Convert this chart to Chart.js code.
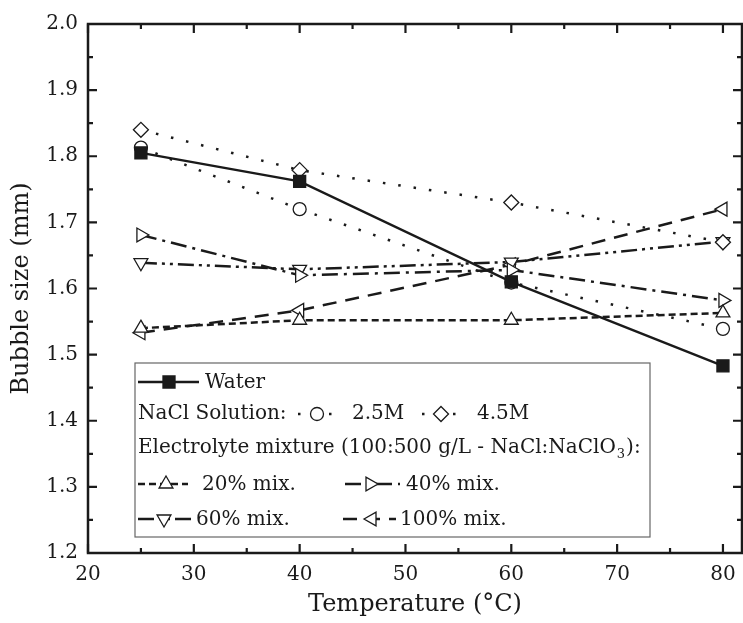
<!DOCTYPE html>
<html>
<head>
<meta charset="utf-8">
<script src="https://cdn.jsdelivr.net/npm/chart.js@4.4.0/dist/chart.umd.min.js"></script>
<style>
  html, body { margin: 0; padding: 0; background: #fff; }
  #wrap { width: 743px; height: 623px; }
</style>
</head>
<body>
<div id="wrap"><canvas id="myChart"></canvas></div>
<script>
let temps = [25, 40, 60, 80];
let water = [1.805, 1.762, 1.61, 1.483];
let nacl25 = [1.813, 1.72, 1.609, 1.539];
let nacl45 = [1.84, 1.779, 1.73, 1.67];
let mix20 = [1.54, 1.552, 1.552, 1.563];
let mix40 = [1.681, 1.62, 1.628, 1.582];
let mix60 = [1.639, 1.629, 1.64, 1.671];
let mix100 = [1.533, 1.567, 1.636, 1.72];
let xTicks = [20, 30, 40, 50, 60, 70, 80];
let yTicks = [1.2, 1.3, 1.4, 1.5, 1.6, 1.7, 1.8, 1.9, 2.0];

let ink = '#1a1a1a';
let serif = '"DejaVu Serif", "Liberation Serif", serif';

function series(label, vals, dash, style, rot, radius, fill, width) {
  return {
    label: label,
    data: temps.map((t, i) => ({ x: t, y: vals[i] })),
    borderColor: ink,
    borderWidth: width,
    borderDash: dash,
    pointStyle: style,
    pointRotation: rot,
    pointRadius: radius,
    pointHoverRadius: radius,
    pointBackgroundColor: fill,
    pointBorderColor: ink,
    pointBorderWidth: 1.3,
    fill: false,
    tension: 0
  };
}

let sets = [
  series('Water', water, [], 'rect', 0, 8.5, ink, 2.4),
  series('2.5M', nacl25, [2.5, 13], 'circle', 0, 6.5, '#fff', 2.5),
  series('4.5M', nacl45, [2.5, 13], 'rectRot', 0, 7.5, '#fff', 2.5),
  series('20% mix.', mix20, [7, 4], 'triangle', 0, 8, '#fff', 2.5),
  series('40% mix.', mix40, [16, 6, 3, 6], 'triangle', 90, 8, '#fff', 2.5),
  series('60% mix.', mix60, [16, 5, 3, 5, 3, 5], 'triangle', 180, 8, '#fff', 2.5),
  series('100% mix.', mix100, [14, 9], 'triangle', 270, 8, '#fff', 2.5)
];

function drawMarker(ctx, ds, x, y) {
  let r = ds.pointRadius;
  ctx.save();
  ctx.setLineDash([]);
  ctx.lineWidth = ds.pointBorderWidth;
  ctx.strokeStyle = ds.pointBorderColor;
  ctx.fillStyle = ds.pointBackgroundColor;
  ctx.beginPath();
  if (ds.pointStyle === 'circle') {
    ctx.arc(x, y, r, 0, Math.PI * 2);
  } else if (ds.pointStyle === 'rect') {
    let s = r * Math.SQRT1_2;
    ctx.rect(x - s, y - s, 2 * s, 2 * s);
  } else if (ds.pointStyle === 'rectRot') {
    ctx.moveTo(x, y - r); ctx.lineTo(x + r, y); ctx.lineTo(x, y + r); ctx.lineTo(x - r, y);
  } else {
    let a = ds.pointRotation * Math.PI / 180;
    for (let k = 0; k < 3; k++) {
      let px = x + Math.sin(a) * r, py = y - Math.cos(a) * r;
      if (k === 0) ctx.moveTo(px, py); else ctx.lineTo(px, py);
      a += 2 * Math.PI / 3;
    }
  }
  ctx.closePath();
  ctx.fill();
  ctx.stroke();
  ctx.restore();
}

function sample(ctx, ds, x0, x1, mx, y) {
  ctx.save();
  ctx.strokeStyle = ink;
  ctx.lineWidth = ds.borderWidth;
  ctx.setLineDash(ds.borderDash);
  ctx.beginPath();
  ctx.moveTo(x0, y);
  ctx.lineTo(x1, y);
  ctx.stroke();
  ctx.restore();
  drawMarker(ctx, ds, mx, y);
}

let frame = {
  id: 'frame',
  afterDraw(chart) {
    let ctx = chart.ctx;
    let a = chart.chartArea;
    let xs = chart.scales.x, ys = chart.scales.y;
    ctx.save();
    ctx.strokeStyle = ink;
    ctx.lineWidth = 2.5;
    ctx.strokeRect(a.left, a.top, a.right - a.left, a.bottom - a.top);
    ctx.lineWidth = 2.2;
    ctx.beginPath();
    for (let v = 20; v <= 80; v += 5) {
      let px = xs.getPixelForValue(v);
      let len = v % 10 === 0 ? 9 : 5;
      ctx.moveTo(px, a.bottom); ctx.lineTo(px, a.bottom - len);
      ctx.moveTo(px, a.top); ctx.lineTo(px, a.top + len);
    }
    for (let i = 0; i <= 16; i++) {
      let v = 1.2 + i * 0.05;
      let py = ys.getPixelForValue(v);
      let len = i % 2 === 0 ? 9 : 5;
      ctx.moveTo(a.left, py); ctx.lineTo(a.left + len, py);
      ctx.moveTo(a.right, py); ctx.lineTo(a.right - len, py);
    }
    ctx.stroke();

    // legend box
    let bx = 135, by = 363, bw = 515, bh = 174;
    ctx.fillStyle = '#fff';
    ctx.fillRect(bx, by, bw, bh);
    ctx.strokeStyle = '#666';
    ctx.lineWidth = 1.2;
    ctx.strokeRect(bx, by, bw, bh);

    let d = chart.data.datasets;
    let f = '20px ' + serif;
    ctx.fillStyle = ink;
    ctx.font = f;
    ctx.textBaseline = 'middle';
    ctx.textAlign = 'left';

    sample(ctx, d[0], 138, 199, 169, 382);
    ctx.fillText('Water', 205, 383);

    ctx.fillText('NaCl Solution:', 138, 414);
    sample(ctx, d[1], 298, 333, 317, 414);
    ctx.fillText('2.5M', 352, 414);
    sample(ctx, d[2], 422, 458, 441, 414);
    ctx.fillText('4.5M', 477, 414);

    let t1 = 'Electrolyte mixture (100:500 g/L - NaCl:NaClO';
    ctx.fillText(t1, 138, 448);
    let w1 = ctx.measureText(t1).width;
    ctx.font = '13px ' + serif;
    ctx.fillText('3', 138 + w1 + 1, 455);
    let w2 = ctx.measureText('3').width;
    ctx.font = f;
    ctx.fillText('):', 138 + w1 + w2 + 2, 448);

    sample(ctx, d[3], 138, 188, 166, 484);
    ctx.fillText('20% mix.', 202, 485);
    sample(ctx, d[4], 345, 400, 370, 484);
    ctx.fillText('40% mix.', 406, 485);

    sample(ctx, d[5], 138, 192, 164, 519);
    ctx.fillText('60% mix.', 196, 520);
    sample(ctx, d[6], 343, 396, 372, 519);
    ctx.fillText('100% mix.', 400, 520);
    ctx.restore();
  }
};

let mychart = document.getElementById('myChart');

let chart = new Chart(mychart, {
  type: 'line',
  data: { datasets: sets },
  plugins: [frame],
  options: {
    responsive: true,
    maintainAspectRatio: false,
    animation: false,
    layout: { autoPadding: false, padding: { top: 24, right: 1, left: 0, bottom: 0 } },
    plugins: { legend: { display: false }, tooltip: { enabled: false } },
    scales: {
      x: {
        type: 'linear',
        min: 20,
        max: 81.8,
        grid: { display: false, drawTicks: false },
        border: { display: false },
        afterBuildTicks: s => { s.ticks = xTicks.map(v => ({ value: v })); },
        afterFit: s => { s.height = 70; s.paddingRight = 0; s.paddingLeft = 0; },
        ticks: { color: ink, font: { family: serif, size: 20 }, padding: 10, autoSkip: false, maxRotation: 0 },
        title: { display: true, text: 'Temperature (°C)', color: ink, font: { family: serif, size: 24 }, padding: { top: 0, bottom: 4 } }
      },
      y: {
        min: 1.2,
        max: 2.0,
        grid: { display: false, drawTicks: false },
        border: { display: false },
        afterBuildTicks: s => { s.ticks = yTicks.map(v => ({ value: v })); },
        afterFit: s => { s.width = 88; },
        ticks: { color: ink, font: { family: serif, size: 20 }, padding: 10, callback: v => v.toFixed(1) },
        title: { display: true, text: 'Bubble size (mm)', color: ink, font: { family: serif, size: 24 }, padding: { top: 7, bottom: 7 } }
      }
    }
  }
});
</script>
</body>
</html>
